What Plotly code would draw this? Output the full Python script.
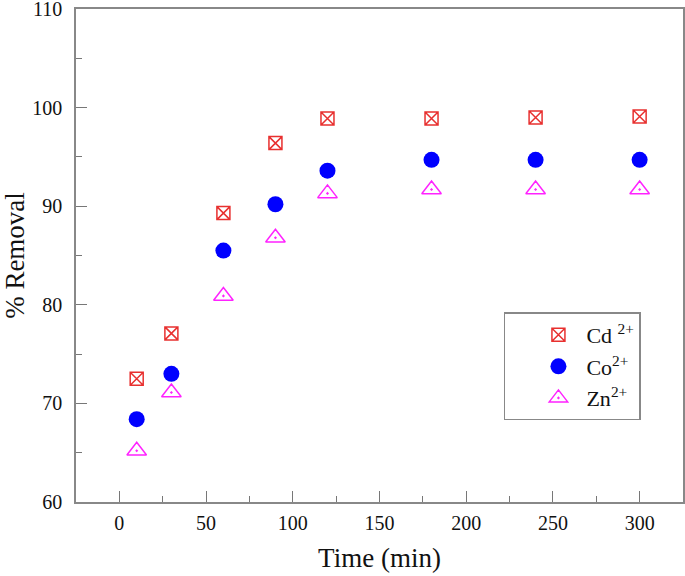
import plotly.graph_objects as go

time_min = [10, 30, 60, 90, 120, 180, 240, 300]
cd_removal = [72.5, 77.1, 89.3, 96.4, 98.9, 98.9, 99.0, 99.1]
co_removal = [68.4, 73.0, 85.5, 90.2, 93.6, 94.7, 94.7, 94.7]
zn_removal = [65.2, 71.1, 80.9, 86.8, 91.3, 91.7, 91.7, 91.7]

x_ticks = [0, 50, 100, 150, 200, 250, 300]
y_ticks = [60, 70, 80, 90, 100, 110]

FONT = "Liberation Serif, Times New Roman, DejaVu Serif, serif"

fig = go.Figure()
fig.add_trace(go.Scatter(x=time_min, y=cd_removal, mode="markers", name="Cd <sup>2+</sup>",
                         marker=dict(symbol="square-x-open", size=13, color="#e8302f",
                                     line=dict(width=1.5, color="#e8302f"))))
fig.add_trace(go.Scatter(x=time_min, y=co_removal, mode="markers", name="Co<sup>2+</sup>",
                         marker=dict(symbol="circle", size=16, color="#0000ff",
                                     line=dict(width=0))))
fig.add_trace(go.Scatter(x=time_min, y=zn_removal, mode="markers", name="Zn<sup>2+</sup>",
                         marker=dict(symbol="triangle-up-open-dot", size=17, color="#ff22ff",
                                     line=dict(width=1.5, color="#ff22ff"))))

axis_common = dict(
    showline=True, linecolor="#888888", linewidth=1.5, mirror=True,
    ticks="inside", ticklen=11, tickwidth=1.2, tickcolor="#777777",
    showgrid=False, zeroline=False, automargin=False,
    ticklabeloverflow="allow",
    tickfont=dict(family=FONT, size=20, color="#111111"),
)

fig.update_xaxes(range=[-25, 325], tickvals=x_ticks, ticklabelstandoff=2,
                 minor=dict(ticks="inside", ticklen=6, dtick=25, tick0=0, tickcolor="#777777", tickwidth=1.2),
                 title=dict(text="Time (min)", font=dict(family=FONT, size=27, color="#111111"), standoff=15),
                 **axis_common)
fig.update_yaxes(range=[60, 110.001], tickvals=y_ticks, ticklabelstandoff=8,
                 minor=dict(ticks="inside", ticklen=6, dtick=5, tick0=60, tickcolor="#777777", tickwidth=1.2),
                 title=dict(text="% Removal", font=dict(family=FONT, size=27, color="#111111"), standoff=13),
                 **axis_common)

fig.update_layout(
    width=685, height=576,
    margin=dict(l=76, r=2, t=9, b=74),
    plot_bgcolor="white", paper_bgcolor="white",
    showlegend=True,
    legend=dict(x=0.705, y=0.3846, xanchor="left", yanchor="top",
                bgcolor="white", bordercolor="#888888", borderwidth=1.5,
                font=dict(family=FONT, size=22, color="#111111"),
                indentation=25, itemwidth=46, tracegroupgap=0),
)

fig.write_html("out.html",
               config={"displayModeBar": False},
               post_script="document.body.style.margin='0';document.body.style.padding='0';document.body.style.overflow='hidden';")
